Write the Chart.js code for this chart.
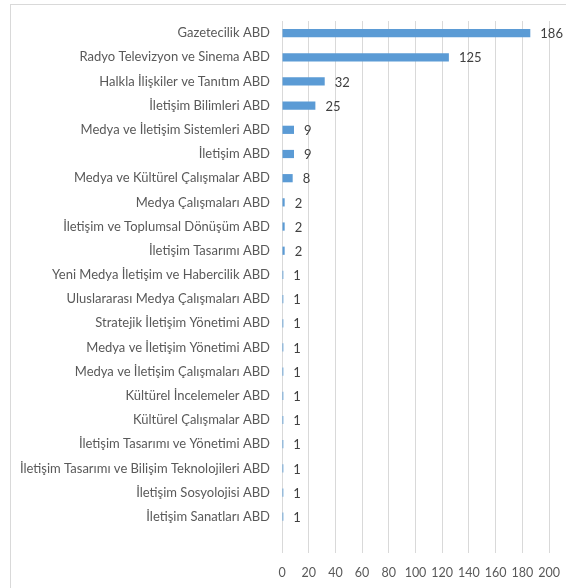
<!DOCTYPE html>
<html>
<head>
<meta charset="utf-8">
<script src="https://cdn.jsdelivr.net/npm/chart.js@4"></script>
<style>
  html,body{margin:0;padding:0;background:#fff;}
  #wrap{position:relative;width:566px;height:588px;overflow:hidden;}
  #frame{position:absolute;left:10px;top:4px;width:600px;height:620px;border:1px solid #d9d9d9;box-sizing:border-box;}
  canvas{position:absolute;left:0;top:0;}
</style>
</head>
<body>
<div id="wrap">
  <div id="frame"></div>
  <canvas id="c" width="566" height="588"></canvas>
</div>
<script>
/* DATA */
const categories=[
  'Gazetecilik ABD',
  'Radyo Televizyon ve Sinema ABD',
  'Halkla İlişkiler ve Tanıtım ABD',
  'İletişim Bilimleri ABD',
  'Medya ve İletişim Sistemleri ABD',
  'İletişim ABD',
  'Medya ve Kültürel Çalışmalar ABD',
  'Medya Çalışmaları ABD',
  'İletişim ve Toplumsal Dönüşüm ABD',
  'İletişim Tasarımı ABD',
  'Yeni Medya İletişim ve Habercilik ABD',
  'Uluslararası Medya Çalışmaları ABD',
  'Stratejik İletişim Yönetimi ABD',
  'Medya ve İletişim Yönetimi ABD',
  'Medya ve İletişim Çalışmaları ABD',
  'Kültürel İncelemeler ABD',
  'Kültürel Çalışmalar ABD',
  'İletişim Tasarımı ve Yönetimi ABD',
  'İletişim Tasarımı ve Bilişim Teknolojileri ABD',
  'İletişim Sosyolojisi ABD',
  'İletişim Sanatları ABD',
  ''
];
const counts=[186,125,32,25,9,9,8,2,2,2,1,1,1,1,1,1,1,1,1,1,1,null];
const xTicks=[0,20,40,60,80,100,120,140,160,180,200];

const FONT='Lato, "Noto Sans", sans-serif';

/* value labels at bar ends */
const valueLabels={
  id:'valueLabels',
  afterDatasetsDraw(chart){
    const ctx=chart.ctx,meta=chart.getDatasetMeta(0);
    ctx.save();
    ctx.font='13px '+FONT;ctx.fillStyle='#404040';
    ctx.textAlign='left';ctx.textBaseline='middle';
    meta.data.forEach((bar,i)=>{
      if(counts[i]==null)return;
      ctx.fillText(String(counts[i]),bar.x+10,bar.y+1);
    });
    ctx.restore();
  }
};

new Chart(document.getElementById('c'),{
  type:'bar',
  data:{labels:categories,datasets:[{data:counts,backgroundColor:'#5b9bd5',borderWidth:0,barPercentage:0.34,categoryPercentage:1}]},
  options:{
    indexAxis:'y',responsive:false,animation:false,
    layout:{padding:{top:21,right:17,bottom:0,left:0}},
    plugins:{legend:{display:false},tooltip:{enabled:false}},
    scales:{
      x:{min:0,max:200,
        afterBuildTicks(s){s.ticks=xTicks.map(v=>({value:v}));},
        afterFit(s){s.height=35;s.paddingRight=0;s.paddingLeft=0;},
        ticks:{color:'#595959',font:{size:12.5,family:FONT},padding:12,maxRotation:0},
        grid:{color:'#d9d9d9',drawTicks:false},border:{display:false}},
      y:{
        afterFit(s){s.width=282;},
        ticks:{color:'#595959',font:{size:13,family:FONT},padding:12,autoSkip:false},
        grid:{display:false,drawTicks:false},border:{display:false}}
    }
  },
  plugins:[valueLabels]
});
</script>
</body>
</html>
